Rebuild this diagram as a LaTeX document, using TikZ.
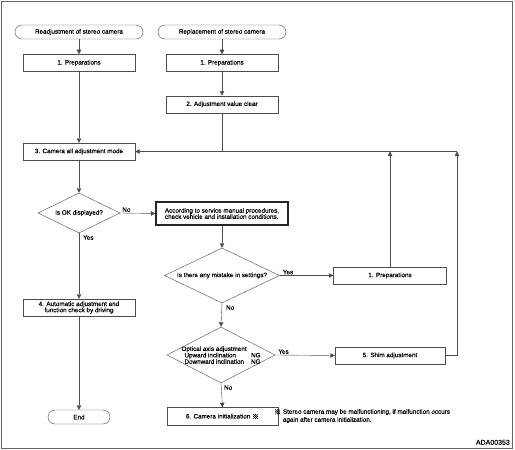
\documentclass[tikz,border=0pt]{standalone}
\usepackage{fontspec}
\setmainfont[FakeBold=0.35]{Liberation Sans}
\newfontfamily\cjkfont[FakeBold=0.6]{Noto Sans CJK JP}
\usetikzlibrary{positioning,arrows.meta,shapes.geometric}
\newcommand{\flowfont}{\fontsize{6.3}{6.2}\selectfont}
\newcommand{\refmark}{\raisebox{-0.7pt}{\cjkfont\fontsize{7}{7}\selectfont ※}}
\tikzset{
  flowbox/.style={draw=black!70, fill=white, font=\flowfont, align=center,
    minimum width=112pt, minimum height=17pt, inner sep=1pt},
  flowterm/.style={flowbox, rounded corners=7pt, minimum width=128pt, minimum height=14pt},
  flowdec/.style={diamond, draw=black!70, fill=white, inner sep=0pt},
  flowarrow/.style={-{Triangle[length=4.5pt,width=4.5pt]}, draw=black!70},
  flowline/.style={draw=black!70},
  flowlabel/.style={font=\flowfont, inner sep=1pt},
}

\begin{document}
\begin{tikzpicture}[x=1pt, y=-1pt]
  \useasboundingbox (0,0) rectangle (515,450);
  \draw[black!60] (1,1) rectangle (512,448);

  % start of both branches
  \node[flowterm] (readj) at (79,32) {Readjustment of stereo camera};
  \node[flowbox, below=15pt of readj] (prepL) {1. Preparations};
  \node[flowterm] (repl) at (222,32) {Replacement of stereo camera};
  \node[flowbox, below=15pt of repl] (prepR) {1. Preparations};
  \node[flowbox, below=24pt of prepR] (clear) {2. Adjustment value clear};

  \node[flowbox] (mode) at (79,151.5) {3. Camera all adjustment mode};
  \node[flowdec, minimum width=82pt, minimum height=40pt,
    label={[flowlabel]center:Is OK displayed?}] (ok) at (79,213) {};
  \node[flowbox, draw=black!85, line width=1.1pt, minimum width=132pt, minimum height=23pt,
    align=left] (check) at (222,213.5)
    {According to service manual procedures,\\check vehicle and installation conditions.};
  \node[flowdec, minimum width=115pt, minimum height=55pt,
    label={[flowlabel]center:Is there any mistake in settings?}] (mistake) at (222,275.5) {};
  \node[flowbox, minimum width=113pt] (prepB) at (390,275.5) {1. Preparations};
  \node[flowbox] (auto) at (79,307.5) {4. Automatic adjustment and\\function check by driving};
  \node[flowdec, minimum width=108pt, minimum height=56pt,
    label={[flowlabel, yshift=-1pt]center:{\begin{tabular}{@{}l@{\hspace{7pt}}l@{}}
      \multicolumn{2}{@{}l}{Optical axis adjustment}\\
      \hspace{3pt}Upward inclination & NG\\
      \hspace{3pt}Downward inclination & NG
    \end{tabular}}}] (optical) at (221,355) {};
  \node[flowbox, minimum width=110pt] (shim) at (390,355.5) {5. Shim adjustment};
  \node[flowterm, minimum width=62pt] (finish) at (79,417) {End};
  \node[flowbox, minimum width=111pt, minimum height=18pt] (init) at (222.5,416.5)
    {6. Camera initialization \refmark};

  \coordinate (merge) at (457,151.5);

  \draw[flowarrow] (readj) -- (prepL);
  \draw[flowarrow] (prepL) -- (mode);
  \draw[flowarrow] (repl) -- (prepR);
  \draw[flowarrow] (prepR) -- (clear);
  \draw[flowarrow] (clear.south) |- (mode.east);
  \draw[flowline] (merge) -- (clear.south |- mode.east);
  \draw[flowarrow] (prepB.north) -- (prepB.north |- mode.east);
  \draw[flowarrow] (shim.east) -| (merge);
  \draw[flowarrow] (mode) -- (ok);
  \draw[flowarrow] (ok.east) -- (check.west);
  \draw[flowarrow] (ok.south) -- (auto.north);
  \draw[flowarrow] (auto) -- (finish);
  \draw[flowarrow] (check) -- (mistake.north);
  \draw[flowarrow] (mistake.east) -- (prepB.west);
  \draw[flowarrow] (mistake.south) -- (optical.north);
  \draw[flowarrow] (optical.east) -- (shim.west);
  \draw[flowarrow] (optical.south) -- (init.north);

  % branch labels
  \node[flowlabel, anchor=south west, xshift=1pt] at (ok.east) {No};
  \node[flowlabel, anchor=north west, xshift=3pt, yshift=-1pt] at (ok.south) {Yes};
  \node[flowlabel, anchor=south west, xshift=2pt] at (mistake.east) {Yes};
  \node[flowlabel, anchor=north west, xshift=3pt, yshift=-1pt] at (mistake.south) {No};
  \node[flowlabel, anchor=south west, xshift=2pt] at (optical.east) {Yes};
  \node[flowlabel, anchor=north west, xshift=2pt, yshift=-1pt] at (optical.south) {No};

  \node[flowlabel, font=\fontsize{6.3}{8}\selectfont, align=left, anchor=north west] (note) at (273,408)
    {\refmark\ Stereo camera may be malfunctioning, if malfunction occurs\\
     \hphantom{\refmark\ }again after camera initialization.};
  \node[font=\fontsize{7}{8}\selectfont, anchor=south east, inner sep=1pt] (code) at (511,446) {ADA00353};
\end{tikzpicture}
\end{document}
